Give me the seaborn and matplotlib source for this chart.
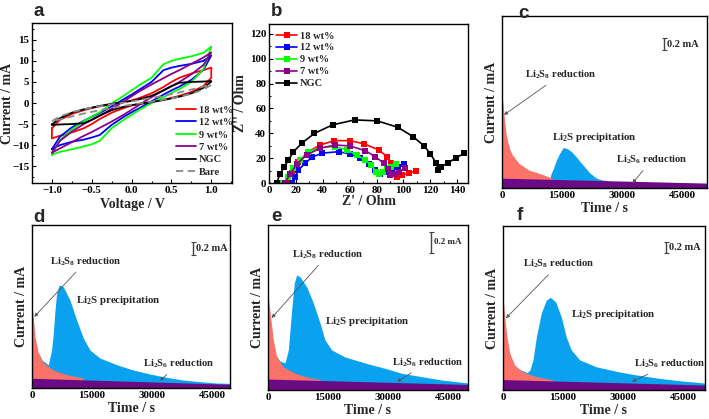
import numpy as np
import pandas as pd
import matplotlib
matplotlib.use('Agg')
import matplotlib.pyplot as plt
import seaborn as sns
from matplotlib.ticker import MultipleLocator, NullLocator

# ---------------- panel a: CV curves (V, mA) ----------------
cv_v = [-1.0, -0.9, -0.75, -0.6, -0.5, -0.4, -0.25, -0.1, 0.0, 0.1, 0.25, 0.4, 0.5, 0.6, 0.75, 0.9, 1.0]
# forward (upper) and backward (lower) branches, both listed by ascending voltage
cv_18_up = [-6.0, -4.0, -2.6, -1.7, -1.2, -0.8, -0.3, 0.2, 0.6, 1.2, 2.3, 3.8, 5.0, 6.0, 7.0, 7.8, 8.4]
cv_18_dn = [-8.4, -7.8, -7.0, -6.0, -5.0, -3.8, -2.3, -1.2, -0.6, -0.2, 0.3, 0.8, 1.2, 1.7, 2.6, 4.0, 6.0]
cv_12_up = [-11.0, -8.0, -5.8, -4.2, -3.3, -2.4, -0.8, 0.9, 2.0, 3.2, 5.0, 7.8, 8.4, 8.8, 9.3, 10.0, 11.3]
cv_12_dn = [-11.0, -10.0, -9.2, -8.7, -8.2, -7.6, -5.2, -3.3, -2.2, -1.2, 0.4, 2.0, 3.0, 3.9, 5.5, 7.8, 11.3]
cv_9_up = [-12.3, -8.8, -6.3, -4.3, -3.2, -2.2, -0.1, 1.7, 3.0, 4.3, 6.0, 9.2, 10.0, 10.5, 11.1, 11.9, 13.4]
cv_9_dn = [-12.3, -11.6, -11.0, -10.3, -9.8, -9.0, -6.0, -4.0, -2.8, -1.6, 0.0, 1.4, 2.4, 3.3, 5.0, 8.0, 13.4]
cv_7_up = [-11.8, -9.0, -6.8, -5.0, -4.0, -3.0, -1.4, 0.4, 1.6, 2.8, 4.4, 5.9, 6.9, 7.8, 9.3, 10.8, 12.0]
cv_7_dn = [-11.8, -10.8, -9.3, -7.8, -6.9, -5.9, -4.4, -2.8, -1.6, -0.4, 1.4, 3.0, 4.0, 5.0, 6.8, 9.0, 12.0]
cv_ngc_up = [-5.1, -3.6, -2.3, -1.5, -1.1, -0.7, -0.2, 0.2, 0.5, 0.9, 1.7, 3.0, 4.0, 4.8, 5.0, 5.1, 5.2]
cv_ngc_dn = [-5.2, -5.1, -5.0, -4.8, -4.0, -3.0, -1.7, -0.9, -0.5, -0.2, 0.2, 0.7, 1.1, 1.5, 2.3, 3.6, 5.1]
cv_bare_up = [-4.3, -3.2, -2.2, -1.5, -1.1, -0.8, -0.3, 0.1, 0.4, 0.7, 1.2, 1.7, 2.1, 2.5, 3.2, 3.9, 4.3]
cv_bare_dn = [-4.3, -3.9, -3.2, -2.5, -2.1, -1.7, -1.2, -0.7, -0.4, -0.1, 0.3, 0.8, 1.1, 1.5, 2.2, 3.2, 4.3]

# ---------------- panel b: Nyquist plots (Ohm) ----------------
eis_18_re = [13.9, 16.9, 21.9, 29.3, 38.1, 48.7, 59.9, 70.9, 81.6, 87.8, 91.0, 95.3, 99.0, 104.0, 109.5]
eis_18_im = [1.0, 7.8, 17.2, 25.2, 30.6, 34.1, 34.1, 31.5, 26.6, 21.2, 15.9, 5.1, 6.5, 7.8, 9.9]
eis_12_re = [16.9, 19.4, 21.9, 26.9, 31.9, 39.3, 51.7, 60.4, 67.9, 74.1, 79.1, 82.8, 86.6, 91.6, 96.0, 100.2]
eis_12_im = [0.2, 5.1, 10.5, 15.9, 20.7, 24.0, 25.2, 23.4, 19.9, 15.3, 10.5, 7.3, 9.1, 11.1, 13.1, 15.3]
eis_9_re = [10.7, 13.9, 18.1, 23.1, 29.3, 38.1, 49.3, 58.0, 65.4, 71.6, 76.1, 79.6, 81.6, 84.6, 87.8, 91.0, 94.5]
eis_9_im = [0.2, 5.1, 11.9, 18.5, 25.2, 28.5, 29.3, 26.6, 22.6, 18.5, 14.5, 9.1, 7.3, 9.1, 11.9, 13.1, 15.0]
eis_7_re = [11.9, 15.7, 20.7, 28.1, 38.1, 49.3, 60.4, 71.6, 79.1, 85.3, 88.6, 90.3, 92.8, 96.5, 101.0]
eis_7_im = [0.2, 7.3, 15.3, 22.6, 28.0, 30.6, 29.8, 26.0, 21.2, 15.9, 11.0, 6.5, 7.3, 9.1, 11.9]
eis_ngc_re = [5.7, 8.2, 11.4, 14.4, 18.2, 24.4, 33.8, 47.3, 63.7, 80.6, 95.7, 107.2, 115.4, 120.1, 124.4,
              125.9, 128.1, 133.4, 139.3, 145.3]
eis_ngc_im = [0.2, 7.3, 13.1, 18.5, 25.2, 32.0, 40.0, 46.8, 50.8, 50.0, 44.9, 37.3, 29.8, 23.4, 15.9,
              10.5, 13.1, 16.4, 20.4, 23.9]

# ---------------- panels c-f: potentiostatic discharge (s, mA) ----------------
c_red_t = [0, 250, 500, 1000, 1330, 2000, 2580, 4250, 6750, 9250, 11750, 12500]
c_red_i = [1.51, 1.38, 1.19, 0.89, 0.78, 0.62, 0.54, 0.40, 0.29, 0.24, 0.18, 0.17]
c_blue_t = [11900, 12300, 12800, 13500, 14200, 15300, 16300, 17400, 18500, 19500, 20800, 22000, 23600, 25000, 26500]
c_blue_i = [0.15, 0.24, 0.31, 0.44, 0.54, 0.66, 0.64, 0.59, 0.51, 0.43, 0.33, 0.24, 0.16, 0.13, 0.12]
c_base_t = [0, 51200]
c_base_i = [0.16, 0.08]

d_red_t = [0, 330, 750, 1580, 2830, 5330, 8670, 12800]
d_red_i = [1.25, 1.07, 0.77, 0.53, 0.38, 0.27, 0.20, 0.15]
d_blue_t = [1580, 2500, 4080, 4900, 5330, 5750, 6170, 6830, 7830, 9500, 11170, 12830, 14500, 17000,
            21170, 25300, 29500, 33700, 37800, 42000, 46200, 49500]
d_blue_i = [0.53, 0.42, 0.35, 0.57, 0.83, 1.17, 1.43, 1.55, 1.52, 1.32, 1.02, 0.75, 0.57, 0.45,
            0.35, 0.27, 0.21, 0.16, 0.12, 0.095, 0.075, 0.07]
d_base_t = [0, 49500]
d_base_i = [0.146, 0.056]

e_red_t = [0, 670, 1330, 2170, 3830, 6750, 10900, 13000]
e_red_i = [0.876, 0.673, 0.461, 0.304, 0.212, 0.154, 0.108, 0.097]
e_blue_t = [1800, 3000, 4250, 5080, 5920, 6580, 7170, 8000, 9670, 11330, 13000, 14250, 15920, 19250,
            25100, 29250, 33400, 38400, 43400, 50000]
e_blue_i = [0.332, 0.267, 0.249, 0.369, 0.738, 0.987, 1.060, 1.042, 0.950, 0.802, 0.618, 0.461, 0.369, 0.304,
            0.240, 0.200, 0.154, 0.123, 0.092, 0.065]
e_base_t = [0, 50000]
e_base_i = [0.101, 0.051]

f_red_t = [0, 420, 1000, 1670, 2920, 5000, 8330, 12500]
f_red_i = [1.64, 1.26, 0.91, 0.64, 0.43, 0.31, 0.23, 0.17]
f_blue_t = [4000, 6000, 6700, 7500, 8330, 9580, 10830, 11830, 13170, 14580, 15830, 17080, 19170, 23330,
            29170, 33330, 39170, 44170, 50500]
f_blue_i = [0.36, 0.30, 0.34, 0.52, 0.91, 1.33, 1.55, 1.60, 1.52, 1.26, 0.91, 0.69, 0.52, 0.40,
            0.31, 0.26, 0.20, 0.16, 0.12]
f_base_t = [0, 50500]
f_base_i = [0.18, 0.086]

labels = ['18 wt%', '12 wt%', '9 wt%', '7 wt%', 'NGC']
colors = ['#FF0000', '#0000FF', '#00FF00', '#8B008B', '#000000']

RED_FILL = '#FA7268'
BLUE_FILL = '#0AA2EE'
PURPLE_FILL = '#6A0A85'

sns.set_theme(style='ticks')
plt.rcParams.update({
    'font.family': ['Liberation Serif', 'DejaVu Serif'],
    'font.weight': 'bold',
    'axes.labelweight': 'bold',
    'axes.linewidth': 1.0,
    'axes.edgecolor': 'black',
    'xtick.direction': 'in',
    'ytick.direction': 'in',
    'xtick.major.size': 3,
    'ytick.major.size': 3,
    'xtick.minor.size': 1.6,
    'ytick.minor.size': 1.6,
    'xtick.major.width': 0.8,
    'ytick.major.width': 0.8,
    'xtick.minor.width': 0.7,
    'ytick.minor.width': 0.7,
    'xtick.major.pad': 2.5,
    'ytick.major.pad': 2,
    'xtick.labelsize': 7.8,
    'ytick.labelsize': 7.8,
    'xtick.color': 'black',
    'ytick.color': 'black',
    'mathtext.fontset': 'custom',
    'mathtext.rm': 'Liberation Serif:bold',
    'mathtext.it': 'Liberation Serif:bold',
    'mathtext.bf': 'Liberation Serif:bold',
})

W, H = 709, 419
fig = plt.figure(figsize=(W / 100, H / 100), dpi=100)


def add_ax(left, top, right, bottom):
    return fig.add_axes([left / W, 1 - bottom / H, (right - left) / W, (bottom - top) / H])


def panel_letter(x, y, s):
    fig.text(x / W, 1 - y / H, s, fontsize=13.5, fontweight='bold',
             family=['Liberation Sans', 'DejaVu Sans'], ha='left', va='center')


# ---------- a ----------
ax = add_ax(32, 23, 232, 183)
cv_sets = [(cv_18_up, cv_18_dn), (cv_12_up, cv_12_dn), (cv_9_up, cv_9_dn), (cv_7_up, cv_7_dn),
           (cv_ngc_up, cv_ngc_dn)]
for (up, dn), lab, col in zip(cv_sets, labels, colors):
    xs = cv_v + cv_v[::-1] + [cv_v[0]]
    ys = up + dn[::-1] + [up[0]]
    sns.lineplot(x=xs, y=ys, sort=False, estimator=None, color=col, lw=1.3, label=lab, ax=ax)
xs = cv_v + cv_v[::-1] + [cv_v[0]]
ys = cv_bare_up + cv_bare_dn[::-1] + [cv_bare_up[0]]
sns.lineplot(x=xs, y=ys, sort=False, estimator=None, color='#888888', lw=1.3, ls=(0, (4, 2.5)),
             label='Bare', ax=ax)
ax.set_xlim(-1.25, 1.26)
ax.set_ylim(-19, 19)
ax.xaxis.set_major_locator(MultipleLocator(0.5))
ax.xaxis.set_minor_locator(MultipleLocator(0.25))
ax.yaxis.set_major_locator(MultipleLocator(5))
ax.yaxis.set_minor_locator(MultipleLocator(2.5))
ax.set_xlabel('Voltage / V', fontsize=10, labelpad=2)
ax.set_ylabel('Current / mA', fontsize=10)
ax.yaxis.set_label_coords(-0.088, 0.5)
ax.legend(loc='lower left', bbox_to_anchor=(0.69, 0.0), frameon=False, fontsize=7.5,
          handlelength=1.9, handletextpad=0.3, labelspacing=0.3, borderaxespad=0.2)
panel_letter(34, 12, 'a')

# ---------- b ----------
ax = add_ax(269, 24, 468, 183)
eis_sets = [(eis_18_re, eis_18_im), (eis_12_re, eis_12_im), (eis_9_re, eis_9_im), (eis_7_re, eis_7_im),
            (eis_ngc_re, eis_ngc_im)]
for (zr, zi), lab, col in zip(eis_sets, labels, colors):
    sns.lineplot(x=zr, y=zi, sort=False, estimator=None, color=col, lw=1.2, marker='s',
                 markersize=4, markeredgewidth=0, label=lab, ax=ax)
ax.set_xlim(0, 148)
ax.set_ylim(0, 128)
ax.xaxis.set_major_locator(MultipleLocator(20))
ax.xaxis.set_minor_locator(MultipleLocator(10))
ax.yaxis.set_major_locator(MultipleLocator(20))
ax.yaxis.set_minor_locator(MultipleLocator(10))
ax.set_xlabel("Z' / Ohm", fontsize=10, labelpad=0)
ax.set_ylabel("Z'' / Ohm", fontsize=10, labelpad=2)
ax.legend(loc='upper left', bbox_to_anchor=(0.0, 1.0), frameon=False, fontsize=7.5,
          handlelength=2.0, handletextpad=0.3, labelspacing=0.25, borderaxespad=0.3)
panel_letter(271, 11, 'b')


# ---------- c-f ----------
def chrono(ax, red_t, red_i, blue_t, blue_i, base_t, base_i, xmax, ymax, notes):
    ax.fill_between(blue_t, 0, blue_i, color=BLUE_FILL, lw=0)
    ax.fill_between(red_t, 0, red_i, color=RED_FILL, lw=0)
    ax.fill_between(base_t, 0, base_i, color=PURPLE_FILL, lw=0)
    ax.set_xlim(0, xmax)
    ax.set_ylim(0, ymax)
    ax.xaxis.set_major_locator(MultipleLocator(15000))
    ax.xaxis.set_minor_locator(MultipleLocator(7500))
    ax.yaxis.set_major_locator(NullLocator())
    ax.set_xlabel('Time / s', fontsize=10, labelpad=1)
    ax.set_ylabel('Current / mA', fontsize=10, labelpad=3)
    s8, s8_tip, pr, s6, s6_tip, bar, bar_fs = notes
    arrow = dict(arrowstyle='-|>', color='#555555', lw=0.6, shrinkA=1, shrinkB=0, mutation_scale=5)
    ax.annotate('Li$_2$S$_8$ reduction', xy=s8_tip, xytext=s8, fontsize=7.6, ha='left', va='center',
                arrowprops=arrow)
    ax.text(pr[0], pr[1], 'Li$_2$S precipitation', fontsize=7.8, ha='center', va='center')
    ax.annotate('Li$_2$S$_6$ reduction', xy=s6_tip, xytext=s6, fontsize=7.6, ha='left', va='center',
                arrowprops=arrow)
    ax.errorbar(bar[0], bar[1], yerr=0.1, fmt='none', ecolor='#444444', elinewidth=1.0, capsize=1.8,
                capthick=0.8)
    ax.text(bar[0] + 700, bar[1], '0.2 mA', fontsize=bar_fs, ha='left', va='center')


ax = add_ax(502, 16, 707, 188)
chrono(ax, c_red_t, c_red_i, c_blue_t, c_blue_i, c_base_t, c_base_i, 51200, 2.80,
       ((5700, 1.84), (500, 1.19), (23100, 0.83), (28500, 0.455), (32600, 0.08), (40500, 2.34), 7.5))
panel_letter(518, 13, 'c')

ax = add_ax(32, 225, 230, 388)
chrono(ax, d_red_t, d_red_i, d_blue_t, d_blue_i, d_base_t, d_base_i, 49500, 2.45,
       ((4500, 1.90), (575, 1.07), (21600, 1.32), (27700, 0.36), (32000, 0.11), (40200, 2.10), 7.5))
panel_letter(33, 217, 'd')

ax = add_ax(268, 225, 468, 390)
chrono(ax, e_red_t, e_red_i, e_blue_t, e_blue_i, e_base_t, e_base_i, 50000, 1.52,
       ((6000, 1.245), (925, 0.664), (24900, 0.627), (31000, 0.252), (32300, 0.077), (40700, 1.36), 6.5))
panel_letter(271, 216, 'e')

ax = add_ax(503, 226, 705, 390)
chrono(ax, f_red_t, f_red_i, f_blue_t, f_blue_i, f_base_t, f_base_i, 50500, 2.83,
       ((5000, 2.17), (750, 1.24), (27600, 1.31), (32700, 0.448), (32250, 0.143), (40700, 2.46), 7.5))
panel_letter(517, 215, 'f')

fig.savefig('out.png', dpi=100)
